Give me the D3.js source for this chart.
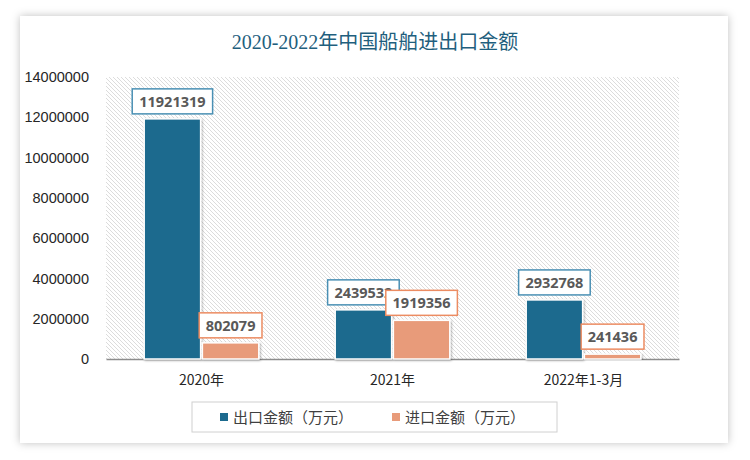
<!DOCTYPE html>
<html><head><meta charset="utf-8">
<script src="https://cdn.jsdelivr.net/npm/d3@7"></script>
<style>body{margin:0;background:#fff;}svg{display:block;}</style>
</head><body>
<script>
const categories = ["2020年", "2021年", "2022年1-3月"];
const exportValues = [11921319, 2439532, 2932768];
const importValues = [802079, 1919356, 241436];
const seriesNames = ["出口金额（万元）", "进口金额（万元）"];
const yTicks = [0, 2000000, 4000000, 6000000, 8000000, 10000000, 12000000, 14000000];
const titleText = "2020-2022年中国船舶进出口金额";

const W = 750, H = 460;
const colors = ["#1c6a8e", "#e89b7a"];
const borderColors = ["#4a90b4", "#ec8c62"];
const svg = d3.select("body").append("svg").attr("width", W).attr("height", H);
const defs = svg.append("defs");
const f = defs.append("filter").attr("id", "sh").attr("x", "-5%").attr("y", "-5%").attr("width", "110%").attr("height", "110%");
f.append("feDropShadow").attr("dx", 0).attr("dy", 0).attr("stdDeviation", 4).attr("flood-color", "#000").attr("flood-opacity", 0.25);
const bs = defs.append("filter").attr("id", "bs").attr("x", "-20%").attr("y", "-20%").attr("width", "140%").attr("height", "140%");
bs.append("feDropShadow").attr("dx", 1).attr("dy", 1).attr("stdDeviation", 1.2).attr("flood-color", "#000").attr("flood-opacity", 0.3);
const pat = defs.append("pattern").attr("id", "hatch").attr("patternUnits", "userSpaceOnUse").attr("width", 4).attr("height", 4);
pat.append("rect").attr("width", 4).attr("height", 4).attr("fill", "#fff");
pat.append("path").attr("d", "M-1,-1 L5,5 M-1,3 L1,5 M3,-1 L5,1").attr("stroke", "#dcdcdc").attr("stroke-width", 1);

svg.append("rect").attr("x", 20).attr("y", 16).attr("width", 708).attr("height", 427).attr("fill", "#fff").attr("filter", "url(#sh)");

svg.append("text").attr("x", 375).attr("y", 49).attr("text-anchor", "middle")
  .attr("font-family", "'Liberation Serif','Noto Sans CJK SC',serif").attr("font-size", 20)
  .attr("fill", "#1f5f7e").text(titleText);

const m = {l: 106, r: 679, t: 77, b: 359};
const x = d3.scaleBand().domain(categories).range([m.l, m.r]).paddingInner(0.4).paddingOuter(0.2);
const xs = d3.scaleBand().domain([0, 1]).range([0, x.bandwidth()]).paddingInner(0.03);
const y = d3.scaleLinear().domain([0, 14000000]).range([m.b, m.t]);

svg.append("rect").attr("x", m.l).attr("y", m.t).attr("width", m.r - m.l).attr("height", m.b - m.t).attr("fill", "url(#hatch)");

const yAxis = svg.append("g").attr("transform", `translate(${m.l - 14},0)`)
  .call(d3.axisLeft(y).tickValues(yTicks).tickFormat(d3.format("d")).tickSize(0));
yAxis.select(".domain").remove();
yAxis.selectAll("text").attr("font-family", "'Liberation Sans',Arial,sans-serif").attr("font-size", 14.5).attr("fill", "#262626");

const xAxis = svg.append("g").attr("transform", `translate(0,${m.b})`)
  .call(d3.axisBottom(x).tickSize(0).tickPadding(16));
xAxis.select(".domain").attr("stroke", "#8c8c8c").attr("stroke-width", 1.5);
xAxis.selectAll("text").attr("font-family", "'Noto Sans CJK SC',sans-serif").attr("font-size", 14).attr("fill", "#262626");

const data = categories.map((c, i) => ({c, v: [exportValues[i], importValues[i]]}));
const g = svg.append("g");
data.forEach(d => {
  d.v.forEach((v, s) => {
    const bx = x(d.c) + xs(s), bw = xs.bandwidth();
    g.append("rect").attr("x", bx).attr("y", y(v)).attr("width", bw).attr("height", y(0) - y(v))
      .attr("fill", colors[s]).attr("stroke", "#fff").attr("stroke-width", 1.5).attr("filter", "url(#bs)");
  });
});
data.forEach(d => {
  d.v.forEach((v, s) => {
    const cx = x(d.c) + xs(s) + xs.bandwidth() / 2;
    const label = String(v);
    const tw = label.length * 8.8 + 10;
    const by = y(v) - 5 - 25;
    g.append("rect").attr("x", cx - tw / 2).attr("y", by).attr("width", tw).attr("height", 25)
      .attr("fill", "#fff").attr("stroke", borderColors[s]).attr("stroke-width", 1.5);
    g.append("text").attr("x", cx).attr("y", by + 18).attr("text-anchor", "middle")
      .attr("font-family", "'Open Sans','DejaVu Sans',sans-serif").attr("font-weight", "bold").attr("font-size", 14.5)
      .attr("fill", "#595959").text(label);
  });
});

const lg = svg.append("g");
lg.append("rect").attr("x", 192).attr("y", 402).attr("width", 365).attr("height", 30).attr("fill", "#fff").attr("stroke", "#d0d0d0");
const lx = [220, 392];
seriesNames.forEach((n, i) => {
  lg.append("rect").attr("x", lx[i]).attr("y", 413).attr("width", 8).attr("height", 8).attr("fill", colors[i]);
  lg.append("text").attr("x", lx[i] + 13).attr("y", 423).attr("font-family", "'Noto Sans CJK SC',sans-serif")
    .attr("font-size", 15).attr("fill", "#404040").text(n);
});
</script>
</body></html>
